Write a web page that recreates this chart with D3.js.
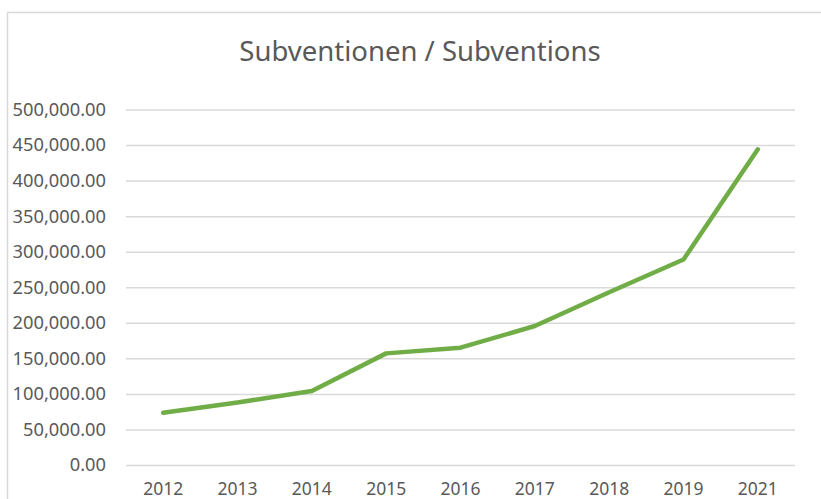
<!DOCTYPE html>
<html>
<head>
<meta charset="utf-8">
<script src="https://cdn.jsdelivr.net/npm/d3@7"></script>
<style>
  html, body { margin: 0; padding: 0; background: #ffffff; }
  svg { display: block; }
</style>
</head>
<body>
<div id="chart"></div>
<script>
// Subsidies per year
const years = ["2012", "2013", "2014", "2015", "2016", "2017", "2018", "2019", "2021"];
const subsidies = [73500, 88000, 104000, 157000, 165000, 195500, 243000, 289000, 444000];
const yTicks = [0, 50000, 100000, 150000, 200000, 250000, 300000, 350000, 400000, 450000, 500000];
const title = "Subventionen / Subventions";

const W = 821, H = 499;
const font = "'Noto Sans', 'Open Sans', sans-serif";
const textColor = "#595959";

const svg = d3.select("#chart").append("svg")
  .attr("width", W).attr("height", H);

// chart area frame
svg.append("rect")
  .attr("x", 7.5).attr("y", 12.5)
  .attr("width", 830).attr("height", 500)
  .attr("fill", "#ffffff")
  .attr("stroke", "#d9d9d9").attr("stroke-width", 1.5);

const plot = { left: 126, right: 795, top: 109.5, bottom: 465 };

const x = d3.scaleBand().domain(years).range([plot.left, plot.right]);
const y = d3.scaleLinear().domain([0, 500000]).range([plot.bottom, plot.top]);

// title
svg.append("text")
  .attr("x", 420).attr("y", 61)
  .attr("text-anchor", "middle")
  .attr("font-family", font).attr("font-size", 27.5)
  .attr("fill", textColor)
  .text(title);

// horizontal gridlines + value labels
const fmt = d3.format(",.2f");
const yAxis = d3.axisLeft(y)
  .tickValues(yTicks)
  .tickSize(-(plot.right - plot.left))
  .tickPadding(20)
  .tickFormat(fmt);

const gy = svg.append("g")
  .attr("transform", `translate(${plot.left},0)`)
  .call(yAxis);
gy.select(".domain").remove();
gy.selectAll(".tick line").attr("stroke", "#d9d9d9").attr("stroke-width", 1.5);
gy.selectAll(".tick text")
  .attr("font-family", font).attr("font-size", 18.3)
  .attr("fill", textColor);

// category labels
const xAxis = d3.axisBottom(x).tickSize(0).tickPadding(0);
const gx = svg.append("g")
  .attr("transform", `translate(0,${plot.bottom})`)
  .call(xAxis);
gx.select(".domain").remove();
gx.selectAll(".tick text")
  .attr("dy", null).attr("y", 30)
  .attr("font-family", font).attr("font-size", 17.5)
  .attr("fill", textColor);

// series line
const line = d3.line()
  .x((d, i) => x(years[i]) + x.bandwidth() / 2)
  .y(d => y(d));

svg.append("path")
  .datum(subsidies)
  .attr("d", line)
  .attr("fill", "none")
  .attr("stroke", "#70ad47")
  .attr("stroke-width", 4.5)
  .attr("stroke-linecap", "round")
  .attr("stroke-linejoin", "round");
</script>
</body>
</html>
